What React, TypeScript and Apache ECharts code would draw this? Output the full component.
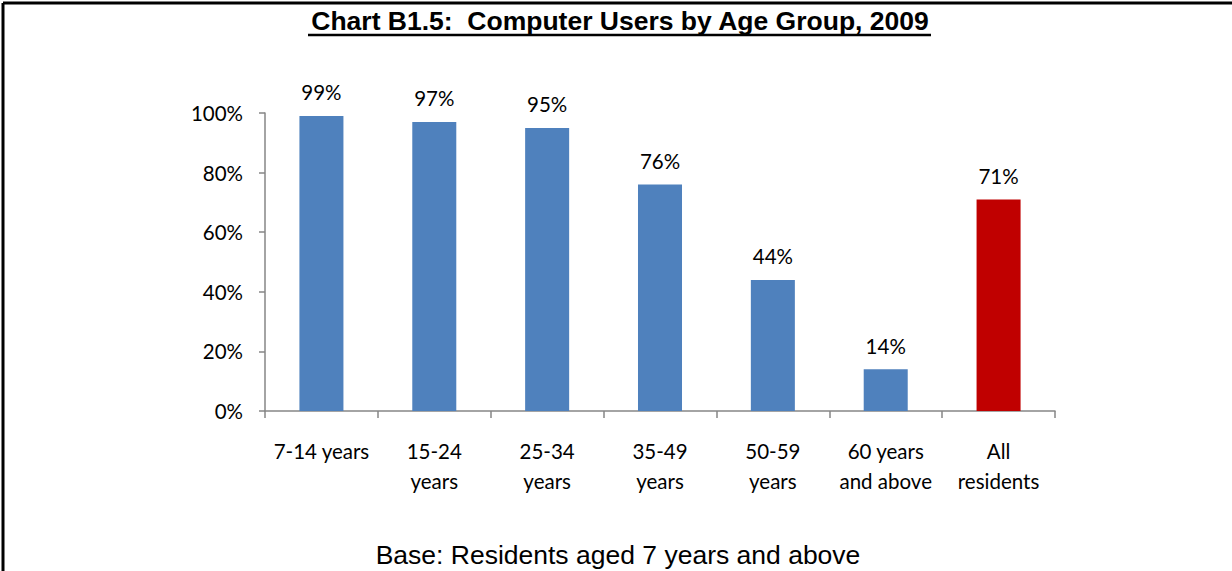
import React, { useEffect, useRef } from "react";
import * as echarts from "echarts";

const categories = ["7-14 years", "15-24\nyears", "25-34\nyears", "35-49\nyears", "50-59\nyears", "60 years\nand above", "All\nresidents"];
const values = [99, 97, 95, 76, 44, 14, 71];
const barColors = ["#4F81BD", "#4F81BD", "#4F81BD", "#4F81BD", "#4F81BD", "#4F81BD", "#C00000"];
const yTicks = [0, 20, 40, 60, 80, 100];

const titleText = "Chart B1.5:  Computer Users by Age Group, 2009";
const footText = "Base: Residents aged 7 years and above";

export default function App() {
  const ref = useRef<HTMLDivElement>(null);
  useEffect(() => {
    if (!ref.current) return;
    const chart = echarts.init(ref.current, undefined, { renderer: "svg" });
    const labelFont = "Lato, 'Open Sans', sans-serif";
    chart.setOption({
      animation: false,
      backgroundColor: "#ffffff",
      grid: { left: 265, right: 177, top: 113, bottom: 160, containLabel: false },
      xAxis: {
        type: "category",
        data: categories,
        axisLine: { show: true, lineStyle: { color: "#868686", width: 1.5 } },
        axisTick: { show: true, length: 7, alignWithLabel: false, lineStyle: { color: "#868686", width: 1.5 } },
        axisLabel: { color: "#000", fontSize: 20.5, fontFamily: labelFont, margin: 25, lineHeight: 30, interval: 0 },
      },
      yAxis: {
        type: "value",
        min: 0,
        max: 100,
        interval: 20,
        splitLine: { show: false },
        axisLine: { show: true, lineStyle: { color: "#868686", width: 1.5 } },
        axisTick: { show: true, length: 6, lineStyle: { color: "#868686", width: 1.5 } },
        axisLabel: {
          color: "#000",
          fontSize: 20.5,
          fontFamily: labelFont,
          margin: 22,
          formatter: (v: number) => (yTicks.includes(v) ? v + "%" : ""),
        },
      },
      series: [
        {
          type: "bar",
          barWidth: "39%",
          data: values.map((v, i) => ({ value: v, itemStyle: { color: barColors[i] } })),
          label: {
            show: true,
            position: "top",
            distance: 13,
            color: "#000",
            fontSize: 20.5,
            fontFamily: labelFont,
            formatter: (p: any) => p.value + "%",
          },
        },
      ],
      graphic: [
        { type: "line", shape: { x1: 3, y1: 3, x2: 1232, y2: 3 }, style: { stroke: "#000", lineWidth: 3 } },
        { type: "line", shape: { x1: 3, y1: 3, x2: 3, y2: 571 }, style: { stroke: "#000", lineWidth: 3 } },
        {
          type: "text",
          x: 620,
          y: 21,
          style: {
            text: titleText,
            font: "bold 26.5px 'Liberation Sans', Arial, sans-serif",
            fill: "#000",
            textAlign: "center",
            textVerticalAlign: "middle",
          },
        },
        { type: "line", shape: { x1: 308, y1: 35, x2: 931, y2: 35 }, style: { stroke: "#000", lineWidth: 2.5 } },
        {
          type: "text",
          x: 618,
          y: 555,
          style: {
            text: footText,
            font: "26.5px 'Liberation Sans', Arial, sans-serif",
            fill: "#000",
            textAlign: "center",
            textVerticalAlign: "middle",
          },
        },
      ],
    });
    return () => chart.dispose();
  }, []);
  return <div ref={ref} style={{ position: "fixed", left: 0, top: 0, width: 1232, height: 571 }} />;
}
